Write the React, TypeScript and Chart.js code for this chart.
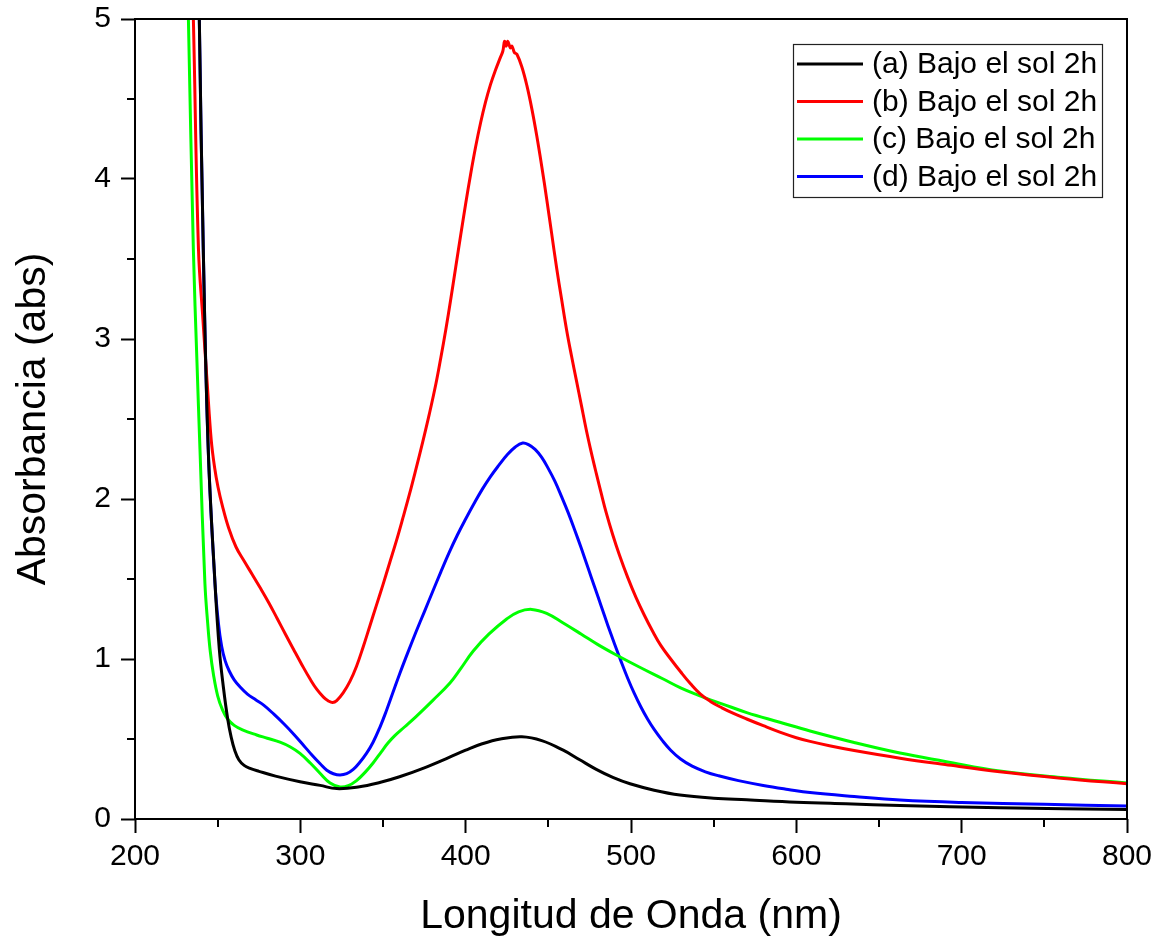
import React, { useEffect, useRef } from "react";
import { Chart, registerables } from "chart.js";

Chart.register(...registerables);

// ---- data (wavelength nm / absorbance) ----
const xA = [237, 238.9, 241.3, 244.3, 248.4, 251, 253.5, 256, 258.2, 260.3, 262.8, 266, 270, 275, 285, 299.8, 312, 322, 335, 348, 360, 375, 390, 400, 410, 421, 434, 446, 459, 469, 479, 489, 499.4, 514, 529.6, 550, 570, 600, 630, 662.7, 723, 800];
const yA = [6.4, 5.0, 3.56, 2.31, 1.47, 1.06, 0.82, 0.63, 0.51, 0.43, 0.37, 0.335, 0.315, 0.298, 0.268, 0.233, 0.21, 0.19, 0.2, 0.228, 0.264, 0.32, 0.385, 0.43, 0.47, 0.5, 0.514, 0.49, 0.43, 0.37, 0.31, 0.26, 0.22, 0.18, 0.15, 0.13, 0.12, 0.105, 0.095, 0.085, 0.07, 0.06];

const xB = [232.5, 235.3, 238.4, 241.1, 243.7, 246.1, 248.1, 250.2, 252.9, 256.6, 261.1, 266, 271, 276, 281, 286, 291, 296, 301, 306, 310, 314, 317, 319.5, 322, 326, 330, 334, 338, 342, 346, 350, 354, 358, 362, 366, 370, 374, 378, 382, 385, 388, 391, 394, 397, 400, 403, 406, 409, 412, 415, 418, 421, 422.5, 423.5, 424.5, 425.5, 427, 428, 429.5, 431, 434, 437, 440, 443, 446, 449, 452, 455, 458, 461, 464, 467, 470, 473, 476, 479, 482, 485, 489, 493, 498, 503, 508, 513, 518, 524, 530, 536, 542, 548, 555, 562, 570, 580, 590, 600, 608.3, 620, 635, 662.7, 690, 723, 760, 800];
const yB = [6.1, 5.0, 3.56, 3.12, 2.72, 2.37, 2.2, 2.075, 1.955, 1.82, 1.7, 1.612, 1.527, 1.44, 1.35, 1.253, 1.155, 1.058, 0.963, 0.873, 0.81, 0.762, 0.738, 0.728, 0.74, 0.79, 0.86, 0.955, 1.075, 1.205, 1.335, 1.465, 1.6, 1.735, 1.88, 2.03, 2.19, 2.355, 2.53, 2.72, 2.885, 3.06, 3.25, 3.45, 3.65, 3.845, 4.03, 4.2, 4.35, 4.48, 4.59, 4.68, 4.76, 4.8, 4.86, 4.83, 4.86, 4.82, 4.83, 4.79, 4.78, 4.7, 4.585, 4.44, 4.27, 4.08, 3.875, 3.66, 3.445, 3.25, 3.06, 2.895, 2.74, 2.585, 2.43, 2.29, 2.16, 2.035, 1.915, 1.775, 1.65, 1.51, 1.385, 1.275, 1.175, 1.085, 1.0, 0.92, 0.845, 0.78, 0.735, 0.695, 0.66, 0.625, 0.583, 0.543, 0.508, 0.485, 0.458, 0.428, 0.38, 0.34, 0.295, 0.255, 0.22];

const xC = [230, 232.3, 235.3, 237.5, 239.3, 242.3, 244, 245.5, 247.5, 250, 253, 256, 260, 265, 273.6, 280, 287.7, 294, 299.8, 306, 311.9, 318, 324, 329, 334, 339, 344, 349, 353, 357, 363, 370, 380, 390.5, 397, 404.6, 414, 424.8, 432, 440, 449, 459, 470, 480, 490.3, 505, 519.5, 530, 541.7, 548, 555, 570, 590, 608.3, 635, 662.7, 690, 723, 760, 800];
const yC = [6.1, 5.0, 3.56, 2.85, 2.31, 1.47, 1.22, 1.05, 0.9, 0.77, 0.68, 0.625, 0.585, 0.557, 0.525, 0.505, 0.48, 0.45, 0.41, 0.35, 0.286, 0.225, 0.2, 0.208, 0.24, 0.29, 0.35, 0.42, 0.475, 0.52, 0.575, 0.64, 0.74, 0.85, 0.94, 1.05, 1.155, 1.25, 1.295, 1.31, 1.285, 1.225, 1.155, 1.09, 1.03, 0.95, 0.875, 0.82, 0.77, 0.745, 0.72, 0.665, 0.605, 0.55, 0.478, 0.412, 0.36, 0.3, 0.26, 0.225];

const xD = [237, 238.9, 241.3, 244.3, 248.4, 250.5, 252.4, 254.5, 257, 260, 264, 268, 273, 278, 284, 290, 296, 302, 307, 312, 316, 320, 324, 328, 332, 336, 340, 344, 348, 352, 356, 360, 365, 370, 375, 380, 385, 390, 395, 400, 405, 410, 415, 420, 425, 430, 434.5, 438, 442, 446, 450, 454, 458, 462, 466, 470, 474, 478, 482, 486, 490, 494, 498, 502, 506, 510, 514, 519, 524, 530, 537, 545, 553, 565, 580, 595, 608.3, 635, 662.7, 700, 750, 800];
const yD = [6.4, 5.0, 3.56, 2.31, 1.47, 1.22, 1.08, 0.99, 0.925, 0.87, 0.82, 0.78, 0.745, 0.71, 0.655, 0.595, 0.53, 0.46, 0.4, 0.345, 0.305, 0.283, 0.275, 0.283, 0.31, 0.355, 0.41, 0.48, 0.57, 0.675, 0.79, 0.905, 1.04, 1.17, 1.295, 1.42, 1.545, 1.665, 1.775, 1.875, 1.97, 2.06, 2.14, 2.21, 2.275, 2.325, 2.35, 2.34, 2.31, 2.26, 2.19, 2.11, 2.015, 1.915, 1.805, 1.69, 1.57, 1.45, 1.33, 1.21, 1.095, 0.985, 0.88, 0.785, 0.7, 0.625, 0.56, 0.49, 0.43, 0.375, 0.33, 0.295, 0.27, 0.24, 0.21, 0.185, 0.165, 0.14, 0.118, 0.103, 0.092, 0.081];

const seriesLabels = ["(a) Bajo el sol 2h", "(b) Bajo el sol 2h", "(c) Bajo el sol 2h", "(d) Bajo el sol 2h"];
const seriesColors = ["#000000", "#ff0000", "#00ff00", "#0000ff"];
const xTickValues = [200, 300, 400, 500, 600, 700, 800];
const yTickValues = [0, 1, 2, 3, 4, 5];
const xMinorTicks = [250, 350, 450, 550, 650, 750];
const yMinorTicks = [0.5, 1.5, 2.5, 3.5, 4.5];

const FONT = "Arial, 'Liberation Sans', Helvetica, sans-serif";

const toPoints = (xs: number[], ys: number[]) => xs.map((x, i) => ({ x, y: ys[i] }));

const framePlugin = {
  id: "frameAndMinor",
  afterDraw(chart: any) {
    const { ctx, chartArea, scales } = chart;
    const { left, right, top, bottom } = chartArea;
    ctx.save();
    ctx.strokeStyle = "#000";
    ctx.lineWidth = 2;
    ctx.strokeRect(left, top, right - left, bottom - top);
    ctx.beginPath();
    xMinorTicks.forEach((v) => {
      const px = Math.round(scales.x.getPixelForValue(v));
      ctx.moveTo(px, bottom);
      ctx.lineTo(px, bottom + 8);
    });
    yMinorTicks.forEach((v) => {
      const py = Math.round(scales.y.getPixelForValue(v));
      ctx.moveTo(left - 8, py);
      ctx.lineTo(left, py);
    });
    ctx.stroke();

    // legend box
    const w = 309;
    const h = 153;
    const x0 = right - 25 - w;
    const y0 = top + 25;
    ctx.fillStyle = "#fff";
    ctx.fillRect(x0, y0, w, h);
    ctx.lineWidth = 1.2;
    ctx.strokeStyle = "#222";
    ctx.strokeRect(x0 + 0.5, y0 + 0.5, w, h);
    ctx.font = `30px ${FONT}`;
    ctx.textBaseline = "middle";
    ctx.textAlign = "left";
    chart.data.datasets.forEach((ds: any, i: number) => {
      const ry = y0 + 20 + i * 37.5;
      ctx.strokeStyle = ds.borderColor;
      ctx.lineWidth = 3;
      ctx.beginPath();
      ctx.moveTo(x0 + 4, ry);
      ctx.lineTo(x0 + 70, ry);
      ctx.stroke();
      ctx.fillStyle = "#000";
      ctx.fillText(ds.label, x0 + 79, ry + 1);
    });
    ctx.restore();
  },
};

export default function App() {
  const canvasRef = useRef<HTMLCanvasElement | null>(null);

  useEffect(() => {
    document.body.style.margin = "0";
    const canvas = canvasRef.current;
    if (!canvas) return;
    const series = [
      toPoints(xA, yA),
      toPoints(xB, yB),
      toPoints(xC, yC),
      toPoints(xD, yD),
    ];
    const chart = new Chart(canvas, {
      type: "line",
      data: {
        datasets: series.map((data, i) => ({
          label: seriesLabels[i],
          data,
          borderColor: seriesColors[i],
          backgroundColor: seriesColors[i],
          borderWidth: 3,
          pointRadius: 0,
          fill: false,
          tension: 0.4,
        })),
      },
      options: {
        animation: false,
        responsive: true,
        maintainAspectRatio: false,
        layout: { padding: { left: 0, right: 33, top: 19, bottom: 0 } },
        plugins: {
          legend: { display: false },
          tooltip: { enabled: false },
        },
        scales: {
          x: {
            type: "linear",
            min: 200,
            max: 800,
            afterFit: (s: any) => {
              s.height = 127;
            },
            afterBuildTicks: (s: any) => {
              s.ticks = xTickValues.map((v) => ({ value: v }));
            },
            grid: {
              display: true,
              drawOnChartArea: false,
              drawTicks: true,
              tickLength: 14,
              tickWidth: 2,
              tickColor: "#000",
            },
            border: { display: false },
            ticks: {
              color: "#000",
              font: { family: FONT, size: 30 },
              padding: 6,
              maxRotation: 0,
              autoSkip: false,
            },
            title: {
              display: true,
              text: "Longitud de Onda (nm)",
              color: "#000",
              font: { family: FONT, size: 41 },
              padding: { top: 0, bottom: 5 },
            },
          },
          y: {
            type: "linear",
            min: 0,
            max: 5,
            afterFit: (s: any) => {
              s.width = 135;
            },
            afterBuildTicks: (s: any) => {
              s.ticks = yTickValues.map((v) => ({ value: v }));
            },
            grid: {
              display: true,
              drawOnChartArea: false,
              drawTicks: true,
              tickLength: 14,
              tickWidth: 2,
              tickColor: "#000",
            },
            border: { display: false },
            ticks: {
              color: "#000",
              font: { family: FONT, size: 30, lineHeight: 0.6 },
              padding: 10,
              autoSkip: false,
            },
            title: {
              display: true,
              text: "Absorbancia (abs)",
              color: "#000",
              font: { family: FONT, size: 41 },
              padding: { top: 9, bottom: 0 },
            },
          },
        },
      },
      plugins: [framePlugin],
    });
    return () => chart.destroy();
  }, []);

  return (
    <div style={{ position: "absolute", left: 0, top: 0, width: 1160, height: 946, background: "#fff" }}>
      <canvas ref={canvasRef} />
    </div>
  );
}
